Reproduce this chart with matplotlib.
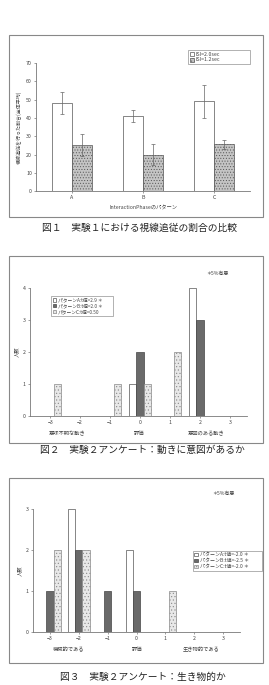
import numpy as np
import matplotlib
matplotlib.use('Agg')
import matplotlib.pyplot as plt
from matplotlib.patches import Rectangle

plt.rcParams['font.family'] = ['Noto Sans CJK JP', 'DejaVu Sans']
plt.rcParams['hatch.linewidth'] = 0.4

# ---- data ----
# chart 1: 視線追従の割合
phases = ['A', 'B', 'C']
isi20_mean = [48, 41, 49]
isi20_err = [6, 3.5, 9]
isi12_mean = [25, 20, 25.5]
isi12_err = [6, 5.5, 2.5]

# chart 2: 動きに意図があるか
ratings = [-3, -2, -1, 0, 1, 2, 3]
q1_a = [0, 0, 0, 1, 0, 4, 0]
q1_b = [0, 0, 0, 2, 0, 3, 0]
q1_c = [1, 0, 1, 1, 2, 0, 0]
q1_labels = ['パターンA:t値=2.9 ＊', 'パターンB:t値=2.0 ＊', 'パターンC:t値=0.50']

# chart 3: 生き物的か
q2_a = [0, 3, 0, 2, 0, 0, 0]
q2_b = [1, 2, 1, 1, 0, 0, 0]
q2_c = [2, 2, 0, 0, 1, 0, 0]
q2_labels = ['パターンA:t値=-2.0 ＊', 'パターンB:t値=-2.5 ＊', 'パターンC:t値=-2.0 ＊']

TXT = '#444444'
LINE = '#777777'

fig = plt.figure(figsize=(2.69, 6.85), dpi=100)

# outer frames and captions
for (y0, h) in [(0.683, 0.266), (0.353, 0.274), (0.032, 0.270)]:
    fig.patches.append(Rectangle((0.033, y0), 0.944, h, transform=fig.transFigure,
                                 fill=False, edgecolor='#888888', linewidth=0.8))
fig.text(0.52, 0.667, '図１　実験１における視線追従の割合の比較', ha='center', va='center', fontsize=7, color='#222222')
fig.text(0.53, 0.343, '図２　実験２アンケート：動きに意図があるか', ha='center', va='center', fontsize=7, color='#222222')
fig.text(0.53, 0.012, '図３　実験２アンケート：生き物的か', ha='center', va='center', fontsize=7, color='#222222')


def style_axes(ax):
    for s in ['top', 'right']:
        ax.spines[s].set_visible(False)
    for s in ['left', 'bottom']:
        ax.spines[s].set_color(LINE)
        ax.spines[s].set_linewidth(0.6)
    ax.tick_params(labelsize=3.8, colors=LINE, labelcolor=TXT, length=1.5, width=0.5, pad=1.5)


def style_legend(lg):
    lg.get_frame().set_linewidth(0.5)
    for t in lg.get_texts():
        t.set_color(TXT)


# ---- chart 1 ----
ax1 = fig.add_axes([0.134, 0.721, 0.796, 0.187])
x = np.arange(len(phases))
w = 0.28
ax1.bar(x - w / 2, isi20_mean, w, yerr=isi20_err, color='white', edgecolor='#555555', linewidth=0.5,
        error_kw=dict(ecolor='#666666', elinewidth=0.5, capsize=1.2, capthick=0.5), label='ISI=2.0sec')
ax1.bar(x + w / 2, isi12_mean, w, yerr=isi12_err, color='#c4c4c4', edgecolor='#555555', linewidth=0.5,
        hatch='......', error_kw=dict(ecolor='#666666', elinewidth=0.5, capsize=1.2, capthick=0.5), label='ISI=1.2sec')
ax1.set_xlim(-0.5, 2.5)
ax1.set_ylim(0, 70)
ax1.set_yticks(range(0, 71, 10))
ax1.set_xticks(x)
ax1.set_xticklabels(phases)
ax1.tick_params(axis='x', length=0)
style_axes(ax1)
ax1.set_xlabel('InteractionPhaseのパターン', fontsize=3.8, color=TXT, labelpad=3)
ax1.set_ylabel('視線追従を行った割合(全体平均)', fontsize=3.6, color=TXT, labelpad=3)
leg = ax1.legend(loc='upper left', bbox_to_anchor=(0.699, 0.905, 0.23, 0.022), bbox_transform=fig.transFigure,
                 mode='expand', fontsize=3.8, frameon=True, fancybox=False, edgecolor='#777777',
                 handlelength=0.8, handleheight=0.8, handletextpad=0.3, borderpad=0.3,
                 labelspacing=0.15, borderaxespad=0)
style_legend(leg)


def rating_chart(ax, a, b, c, labels, ymax, left_label, right_label):
    r = np.array(ratings)
    bw = 0.25
    ax.bar(r - bw, a, bw, color='white', edgecolor='#555555', linewidth=0.5, label=labels[0])
    ax.bar(r, b, bw, color='#6a6a6a', edgecolor='#444444', linewidth=0.5, label=labels[1])
    ax.bar(r + bw, c, bw, color='#e8e8e8', edgecolor='#888888', linewidth=0.5, hatch='.....', label=labels[2])
    ax.set_ylim(0, ymax)
    ax.set_yticks(range(0, ymax + 1))
    ax.set_xticks(ratings)
    ax.set_xticklabels(['−3', '−2', '−1', '0', '1', '2', '3'])
    ax.tick_params(axis='x', length=0)
    style_axes(ax)
    ax.set_ylabel('人数', fontsize=3.8, color=TXT, labelpad=3)
    ax.text(0.5, -0.12, '評価', transform=ax.transAxes, ha='center', va='top', fontsize=3.8, color=TXT)
    ax.text(0.17, -0.12, left_label, transform=ax.transAxes, ha='center', va='top', fontsize=3.8, color=TXT)
    ax.text(0.81, -0.12, right_label, transform=ax.transAxes, ha='center', va='top', fontsize=3.8, color=TXT)


# ---- chart 2 ----
ax2 = fig.add_axes([0.112, 0.393, 0.807, 0.187])
rating_chart(ax2, q1_a, q1_b, q1_c, q1_labels, 4, '意味不明な動き', '意図のある動き')
ax2.set_xlim(-3.67, 3.57)
lg2 = ax2.legend(loc='upper left', bbox_to_anchor=(0.19, 0.533, 0.231, 0.035), bbox_transform=fig.transFigure,
                 mode='expand', fontsize=3.4, frameon=True, fancybox=False, edgecolor='#777777',
                 handlelength=0.8, handleheight=0.8, handletextpad=0.3, borderpad=0.3,
                 labelspacing=0.2, borderaxespad=0)
style_legend(lg2)
fig.text(0.81, 0.601, '＊5%有意', ha='center', va='center', fontsize=3.6, color=TXT)

# ---- chart 3 ----
ax3 = fig.add_axes([0.123, 0.077, 0.770, 0.180])
rating_chart(ax3, q2_a, q2_b, q2_c, q2_labels, 3, '機械的である', '生き物的である')
ax3.set_xlim(-3.59, 3.6)
lg3 = ax3.legend(loc='upper left', bbox_to_anchor=(0.717, 0.161, 0.257, 0.035), bbox_transform=fig.transFigure,
                 mode='expand', fontsize=3.6, frameon=True, fancybox=False, edgecolor='#777777',
                 handlelength=0.8, handleheight=0.8, handletextpad=0.3, borderpad=0.3,
                 labelspacing=0.2, borderaxespad=0)
style_legend(lg3)
fig.text(0.83, 0.280, '＊5%有意', ha='center', va='center', fontsize=3.6, color=TXT)

fig.patch.set_facecolor('white')
plt.savefig('out.png', dpi=100)
